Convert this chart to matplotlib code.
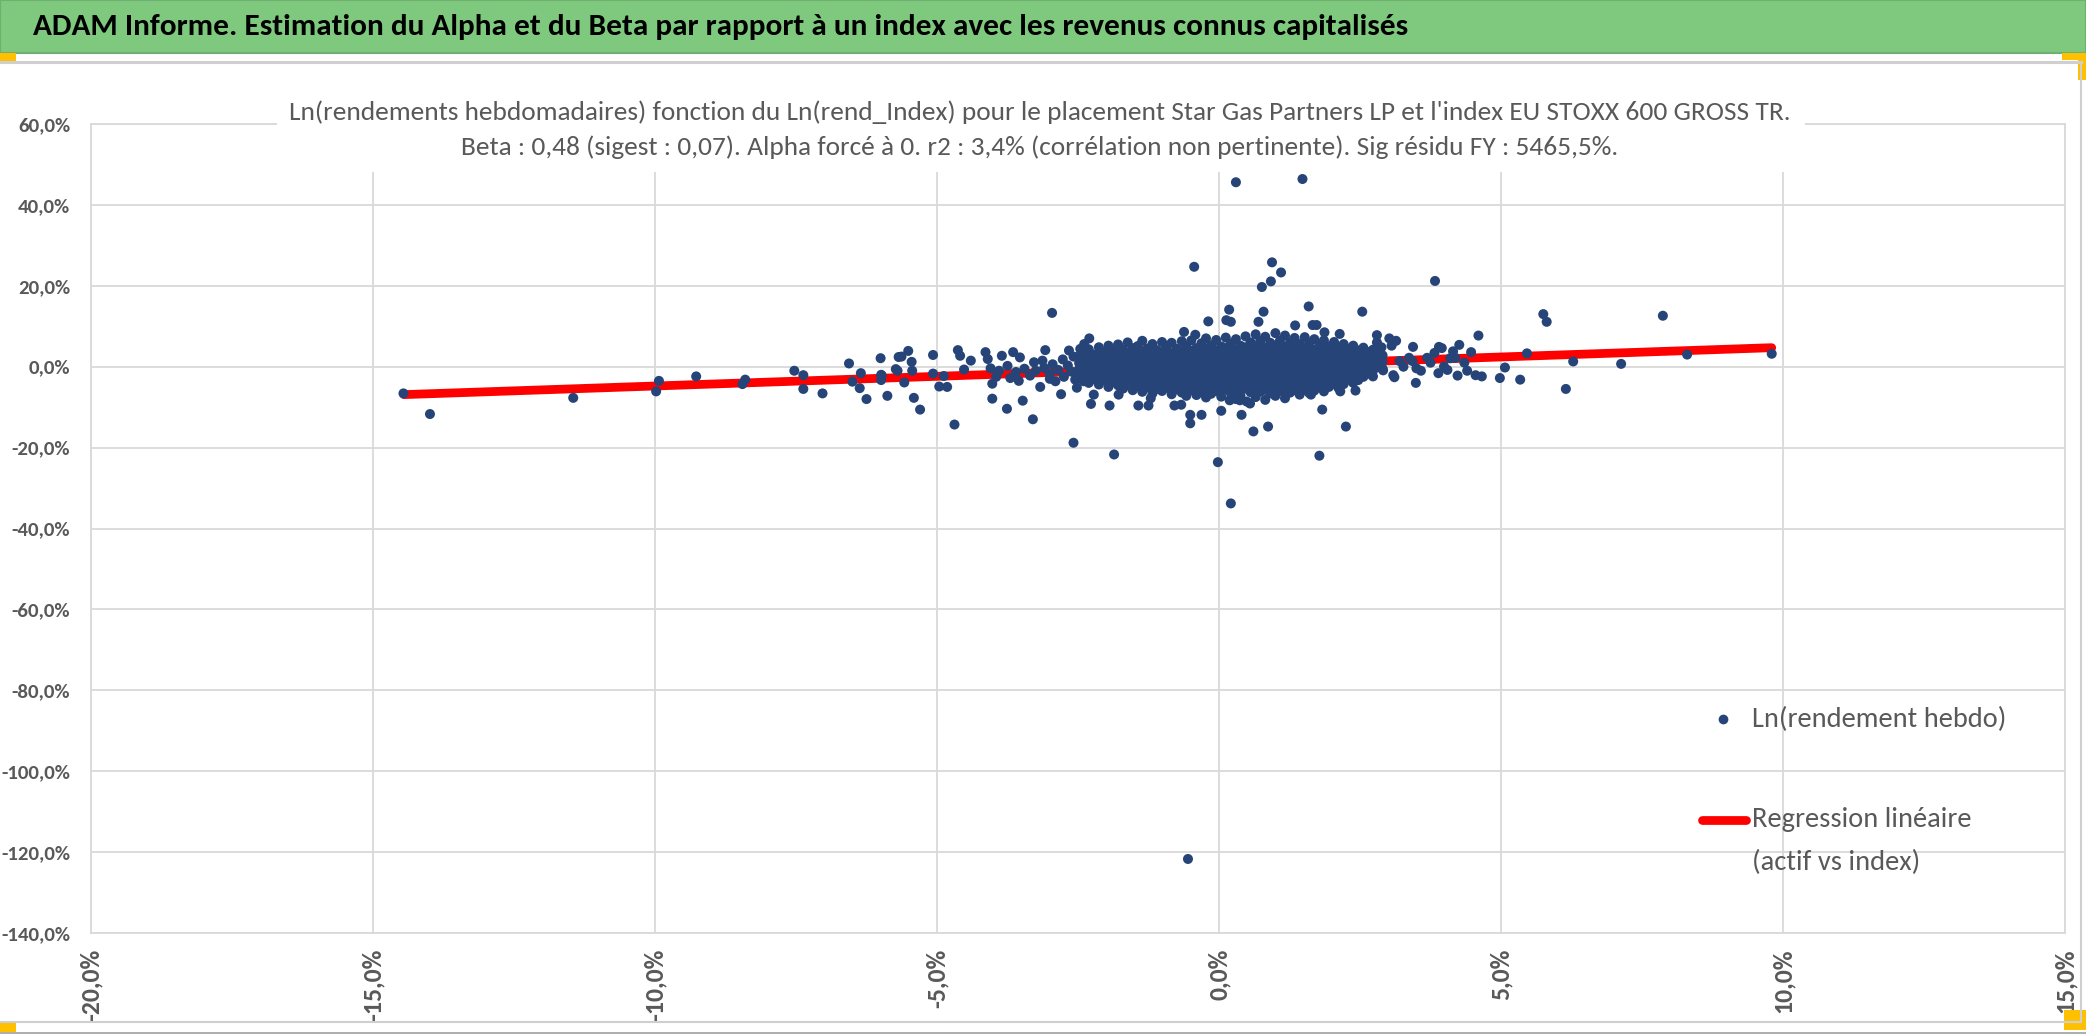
import matplotlib
matplotlib.use("Agg")
from matplotlib import pyplot as plt
from matplotlib.patches import Rectangle
from matplotlib.lines import Line2D
from matplotlib.ticker import FuncFormatter, MultipleLocator

fam = ['Carlito', 'DejaVu Sans']

# --- data (weekly log returns in %, index vs asset) ---
header = "ADAM Informe. Estimation du Alpha et du Beta par rapport à un index avec les revenus connus capitalisés"
title1 = "Ln(rendements hebdomadaires) fonction du Ln(rend_Index) pour le placement Star Gas Partners LP et l'index EU STOXX 600 GROSS TR."
title2 = "Beta : 0,48 (sigest : 0,07). Alpha forcé à 0. r2 : 3,4% (corrélation non pertinente). Sig résidu FY : 5465,5%."
label_pts = "Ln(rendement hebdo)"
label_reg = ["Regression linéaire", "(actif vs index)"]

# regression line end points (actif vs index)
reg_x = [-14.45, 9.8]
reg_y = [-6.9, 4.7]

# isolated points read one by one
outer_pts = [
    (0.30, 45.6), (1.48, 46.4), (-0.44, 24.7), (0.94, 25.8), (1.10, 23.3), (0.92, 21.1),
    (0.76, 19.7), (3.83, 21.2), (-2.96, 13.3), (0.18, 14.1), (1.59, 14.9), (0.79, 13.6),
    (2.54, 13.6), (5.75, 13.0), (5.81, 11.1), (7.87, 12.6), (-0.19, 11.2), (0.13, 11.5),
    (0.21, 11.1), (0.70, 11.1), (1.35, 10.2), (1.66, 10.3), (1.73, 10.3), (-0.62, 8.6),
    (-0.42, 7.9), (-2.30, 7.0), (1.87, 8.5), (2.14, 8.1), (4.60, 7.7), (2.80, 7.8), (3.02, 7.0),
    (-2.58, -18.8), (-1.86, -21.7), (-0.02, -23.6), (0.21, -33.8), (-0.55, -121.7),
    (1.78, -22.0), (2.25, -14.8), (0.61, -16.0), (0.87, -14.8), (-4.69, -14.3), (-3.30, -13.0),
    (-3.76, -10.4), (-4.02, -7.9), (-3.48, -8.4), (-5.30, -10.6), (-5.41, -7.7), (-5.88, -7.2),
    (-0.51, -11.9), (-0.51, -14.0), (-0.31, -11.9), (0.04, -10.9), (0.40, -11.9), (0.49, -8.6),
    (1.83, -10.6), (-2.27, -9.2), (-2.22, -6.9), (-1.94, -9.6), (-1.78, -6.9), (-1.43, -9.6),
    (-1.25, -9.6), (-1.21, -7.8), (-0.79, -9.6), (-0.67, -9.4), (0.19, -8.3), (0.37, -8.3),
    (0.55, -9.1), (-2.80, -6.8), (-3.17, -5.0), (-2.52, -5.2), (1.63, -6.9), (2.15, -6.1),
    (2.42, -5.9), (3.49, -4.0), (6.15, -5.5),
]

left_pts = [
    (-14.46, -6.6), (-13.99, -11.7), (-11.45, -7.7), (-9.98, -6.1), (-9.93, -3.5), (-9.27, -2.4),
    (-8.45, -4.3), (-8.40, -3.2), (-7.53, -1.0), (-7.37, -2.1), (-7.37, -5.5), (-7.03, -6.6),
    (-6.56, 0.8), (-6.50, -3.7), (-6.35, -1.6), (-6.37, -5.3), (-6.25, -8.0), (-6.00, 2.1),
    (-5.99, -2.0), (-5.99, -3.3), (-5.70, -1.0), (-5.68, 2.4), (-5.98, -2.2), (-5.63, 2.5),
    (-5.51, 3.9), (-5.45, 1.2), (-5.44, -1.0), (-5.73, -0.6), (-5.58, -3.9), (-5.07, 2.9),
    (-5.07, -1.7), (-4.96, -4.9), (-4.88, -2.3), (-4.82, -5.0), (-4.63, 4.1), (-4.59, 2.7),
    (-4.52, -0.7), (-4.40, 1.5), (-4.14, 3.6), (-4.10, 1.9), (-4.02, -4.2), (-3.85, 2.7),
    (-3.65, 3.6), (-3.53, 2.3), (-3.28, 1.1), (-3.13, 1.5), (-3.08, 4.1), (-2.77, 1.8),
    (-2.66, 4.0), (-2.46, 4.4), (-2.39, 5.6), (-4.05, -0.4), (-3.90, -1.0), (-3.75, 0.2),
    (-3.60, -1.3), (-3.45, -0.5), (-3.35, -2.2), (-3.70, -2.8), (-3.55, -3.5), (-3.95, -2.5),
    (-3.25, -1.0), (-3.10, -0.3), (-3.00, -1.8), (-2.95, 0.6), (-2.85, -0.8), (-2.75, -2.5),
    (-2.68, 0.3), (-2.62, -1.2), (-2.58, 2.5), (-2.55, -3.2), (-3.00, -3.0), (-2.90, -3.6),
]

right_pts = [
    (3.44, 4.9), (3.90, 4.9), (3.95, 4.6), (4.26, 5.4), (4.47, 3.6), (4.19, 2.2), (3.69, 2.2),
    (3.50, -0.4), (3.27, 0.0), (3.89, -1.6), (3.99, 0.05), (4.10, 2.1), (5.46, 3.3), (6.28, 1.3),
    (5.34, -3.2), (4.98, -2.8), (5.07, -0.2), (4.66, -2.4), (4.55, -2.1), (4.23, -2.2),
    (3.11, -2.6), (2.80, 6.0), (2.88, 4.8), (3.06, 5.2), (3.14, 6.4), (3.20, 1.4), (3.37, 2.2),
    (3.43, 1.4), (3.58, -1.0), (3.09, -2.1), (2.91, -0.9), (2.71, -1.6), (2.42, -1.9),
    (2.45, -3.2), (3.75, 1.0), (3.82, 3.4), (4.05, -0.8), (4.15, 3.8), (4.35, 1.0), (4.40, -1.0),
    (7.13, 0.7), (8.30, 3.0), (9.80, 3.2),
]

# dense core, read column by column: (index return, [asset returns])
core_cols = [
    (-2.48, [2.6, 0.9, -0.6, -1.8, -2.9]),
    (-2.40, [3.5, 1.8, 0.2, -1.2, -2.4, -3.6]),
    (-2.31, [4.3, 2.2, 0.5, -0.9, -2.2, -4.0]),
    (-2.22, [3.0, 1.4, -0.3, -1.6, -3.1]),
    (-2.13, [4.8, 2.9, 1.0, -0.7, -2.5, -4.4]),
    (-2.05, [3.6, 1.8, 0.1, -1.5, -3.3]),
    (-1.96, [5.2, 2.5, 0.6, -1.0, -2.8, -5.0]),
    (-1.88, [4.0, 1.9, -0.2, -1.9, -3.8]),
    (-1.79, [5.5, 3.1, 1.2, -0.5, -2.3, -4.6]),
    (-1.70, [4.2, 2.0, 0.3, -1.4, -3.2, -5.4]),
    (-1.62, [6.0, 3.4, 1.1, -0.8, -2.7, -4.1]),
    (-1.53, [4.6, 2.4, 0.4, -1.6, -3.6, -5.8]),
    (-1.44, [5.1, 2.8, 0.9, -0.9, -2.6, -4.8]),
    (-1.36, [6.4, 3.7, 1.6, -0.3, -2.1, -3.9, -6.2]),
    (-1.27, [4.5, 2.3, 0.2, -1.7, -3.4, -5.1]),
    (-1.18, [5.6, 3.2, 1.3, -0.6, -2.4, -4.3, -6.6]),
    (-1.10, [4.1, 2.0, 0.0, -1.9, -3.7, -5.5]),
    (-1.01, [6.1, 3.6, 1.5, -0.4, -2.2, -4.0, -6.0]),
    (-0.93, [4.8, 2.6, 0.6, -1.3, -3.1, -5.2]),
    (-0.84, [5.9, 3.3, 1.2, -0.7, -2.6, -4.5, -6.8]),
    (-0.75, [4.4, 2.2, 0.3, -1.6, -3.5, -5.6]),
    (-0.66, [6.3, 3.8, 1.7, -0.2, -2.0, -4.1, -6.4]),
    (-0.58, [5.0, 2.7, 0.8, -1.1, -3.0, -4.9, -7.2]),
    (-0.49, [6.5, 3.9, 1.9, 0.0, -1.8, -3.7, -5.8]),
    (-0.40, [4.6, 2.4, 0.5, -1.4, -3.3, -5.1, -7.0]),
    (-0.31, [5.8, 3.5, 1.4, -0.5, -2.4, -4.4, -6.3]),
    (-0.23, [7.0, 4.4, 2.2, 0.2, -1.7, -3.6, -5.5, -7.6]),
    (-0.14, [5.3, 3.0, 1.0, -0.9, -2.8, -4.7, -6.7]),
    (-0.05, [6.6, 4.0, 1.8, -0.2, -2.1, -4.0, -6.0]),
    (0.04, [5.0, 2.8, 0.7, -1.2, -3.2, -5.3, -7.4]),
    (0.12, [7.2, 4.6, 2.3, 0.3, -1.6, -3.5, -5.6]),
    (0.21, [5.7, 3.4, 1.3, -0.6, -2.5, -4.6, -6.6]),
    (0.30, [6.8, 4.2, 2.0, 0.0, -1.9, -3.9, -5.9, -8.0]),
    (0.38, [5.2, 3.0, 0.9, -1.0, -3.0, -5.0, -7.1]),
    (0.47, [7.5, 4.8, 2.5, 0.5, -1.4, -3.4, -5.4]),
    (0.56, [6.0, 3.6, 1.5, -0.4, -2.3, -4.3, -6.3]),
    (0.65, [8.0, 5.0, 2.7, 0.6, -1.3, -3.3, -5.3, -7.5]),
    (0.73, [6.3, 3.9, 1.7, -0.3, -2.2, -4.2, -6.2]),
    (0.82, [7.4, 4.7, 2.4, 0.3, -1.6, -3.6, -5.7, -8.2]),
    (0.91, [5.9, 3.5, 1.3, -0.7, -2.6, -4.6, -6.6]),
    (1.00, [8.3, 5.2, 2.9, 0.8, -1.1, -3.0, -5.0, -7.2]),
    (1.08, [6.4, 4.0, 1.8, -0.2, -2.1, -4.1, -6.0]),
    (1.17, [7.7, 4.9, 2.5, 0.4, -1.5, -3.5, -5.5, -7.8]),
    (1.26, [6.0, 3.6, 1.4, -0.5, -2.4, -4.4, -6.4]),
    (1.34, [7.1, 4.5, 2.2, 0.1, -1.8, -3.8, -5.8]),
    (1.43, [5.6, 3.3, 1.1, -0.8, -2.7, -4.7, -6.9]),
    (1.52, [7.3, 4.6, 2.3, 0.2, -1.7, -3.7, -5.7]),
    (1.60, [5.9, 3.5, 1.4, -0.6, -2.5, -4.5, -6.5]),
    (1.69, [6.8, 4.2, 2.0, 0.0, -1.9, -3.9, -5.9]),
    (1.78, [5.3, 3.1, 1.0, -0.9, -2.8, -4.8]),
    (1.86, [6.5, 4.0, 1.8, -0.1, -2.0, -4.0, -6.1]),
    (1.95, [5.0, 2.9, 0.8, -1.1, -3.0, -5.0]),
    (2.04, [6.1, 3.7, 1.6, -0.3, -2.2, -4.2]),
    (2.12, [4.7, 2.6, 0.6, -1.3, -3.2, -5.3]),
    (2.21, [5.6, 3.4, 1.4, -0.5, -2.4, -4.3]),
    (2.30, [4.4, 2.4, 0.5, -1.4, -3.2]),
    (2.38, [5.2, 3.1, 1.2, -0.7, -2.5, -4.0]),
    (2.47, [4.0, 2.0, 0.2, -1.6, -3.3]),
    (2.56, [4.7, 2.8, 1.0, -0.8, -2.5]),
    (2.64, [3.6, 1.8, 0.0, -1.7]),
    (2.73, [4.2, 2.4, 0.7, -1.0, -2.4]),
    (2.82, [3.3, 1.6, -0.1]),
    (2.90, [2.8, 1.2, -0.5]),
]

core_pts = [(cx, cy) for cx, ys in core_cols for cy in ys]
all_pts = left_pts + core_pts + right_pts + outer_pts
pts_x = [p[0] for p in all_pts]
pts_y = [p[1] for p in all_pts]

# --- styling ---
W, H = 2086, 1035
grey = '#595959'
gridc = '#D9D9D9'
navy = '#264478'


def fx(px):
    return px / W


def fy(py):
    return 1 - py / H


fig = plt.figure(figsize=(W / 100, H / 100), dpi=100)
fig.patch.set_facecolor('white')

# green header band and frame decoration
fig.patches.append(Rectangle((0, fy(53)), 1, fy(0) - fy(53), transform=fig.transFigure,
                             facecolor='#7EC97E', edgecolor='#6FAF6F', lw=1.5))
fig.add_artist(Line2D([0, fx(2081)], [fy(62), fy(62)], transform=fig.transFigure, color='#CFCFCF', lw=2.2))
fig.add_artist(Line2D([fx(2081), fx(2081)], [fy(62), fy(1022)], transform=fig.transFigure, color='#CFCFCF', lw=1.5))
fig.add_artist(Line2D([0, fx(2081)], [fy(1022), fy(1022)], transform=fig.transFigure, color='#CFCFCF', lw=1.5))
fig.add_artist(Line2D([0, 1], [fy(1033), fy(1033)], transform=fig.transFigure, color='#A0A0A0', lw=1.2))
for (x0, y0, x1, y1) in [(0, 53, 16, 61), (2062, 53, 2086, 60), (2078, 53, 2086, 80),
                         (0, 1023, 16, 1032), (2064, 1010, 2086, 1030)]:
    fig.patches.append(Rectangle((fx(x0), fy(y1)), fx(x1) - fx(x0), fy(y0) - fy(y1),
                                 transform=fig.transFigure, facecolor='#FFC000', edgecolor='none'))

fig.text(fx(33), fy(27), header, fontsize=22.5, fontweight='bold', family=fam,
         color='black', ha='left', va='center')

ax = fig.add_axes([fx(91), fy(933), fx(2065) - fx(91), fy(124) - fy(933)])
ax.set_xlim(-20, 15)
ax.set_ylim(-140, 60)
ax.xaxis.set_major_locator(MultipleLocator(5))
ax.yaxis.set_major_locator(MultipleLocator(20))
pct = FuncFormatter(lambda v, pos: '{:.1f}%'.format(v).replace('.', ','))
ax.xaxis.set_major_formatter(pct)
ax.yaxis.set_major_formatter(pct)
ax.set_axisbelow(True)
ax.grid(True, color=gridc, lw=1.3)
for sp in ax.spines.values():
    sp.set_color(gridc)
    sp.set_linewidth(1.3)
    sp.set_zorder(0.6)
ax.tick_params(length=0)
ax.tick_params(axis='y', pad=15, labelsize=15, labelcolor=grey)
ax.tick_params(axis='x', pad=11, labelsize=18.5, labelcolor=grey, labelrotation=90)
for lab in ax.get_yticklabels() + ax.get_xticklabels():
    lab.set_family(fam)
    lab.set_fontweight('bold')

# white box behind the chart title
ax.add_patch(Rectangle((fx(277), fy(172)), fx(1805) - fx(277), fy(100) - fy(172),
                       transform=fig.transFigure, facecolor='white', edgecolor='none',
                       zorder=1, clip_on=False))

ax.plot(reg_x, reg_y, color='#FF0000', lw=6.3, solid_capstyle='round', zorder=2)
ax.scatter(pts_x, pts_y, s=52, color=navy, edgecolors='none', zorder=3)

fig.text(fx(1040), fy(112), title1, fontsize=19.7, family=fam, color=grey,
         ha='center', va='center')
fig.text(fx(1040), fy(147), title2, fontsize=19.7, family=fam, color=grey,
         ha='center', va='center')

# legend
fig.add_artist(Line2D([fx(1723)], [fy(719)], transform=fig.transFigure, marker='o', ms=7,
                      color=navy, markeredgewidth=0, linestyle='none'))
fig.text(fx(1752), fy(719), label_pts, fontsize=20.5, family=fam, color=grey,
         ha='left', va='center')
fig.add_artist(Line2D([fx(1702), fx(1746)], [fy(820), fy(820)], transform=fig.transFigure,
                      color='#FF0000', lw=6.3, solid_capstyle='round'))
fig.text(fx(1752), fy(820), label_reg[0], fontsize=20.5, family=fam, color=grey,
         ha='left', va='center')
fig.text(fx(1752), fy(862), label_reg[1], fontsize=20.5, family=fam, color=grey,
         ha='left', va='center')

fig.savefig('out.png', dpi=100)
